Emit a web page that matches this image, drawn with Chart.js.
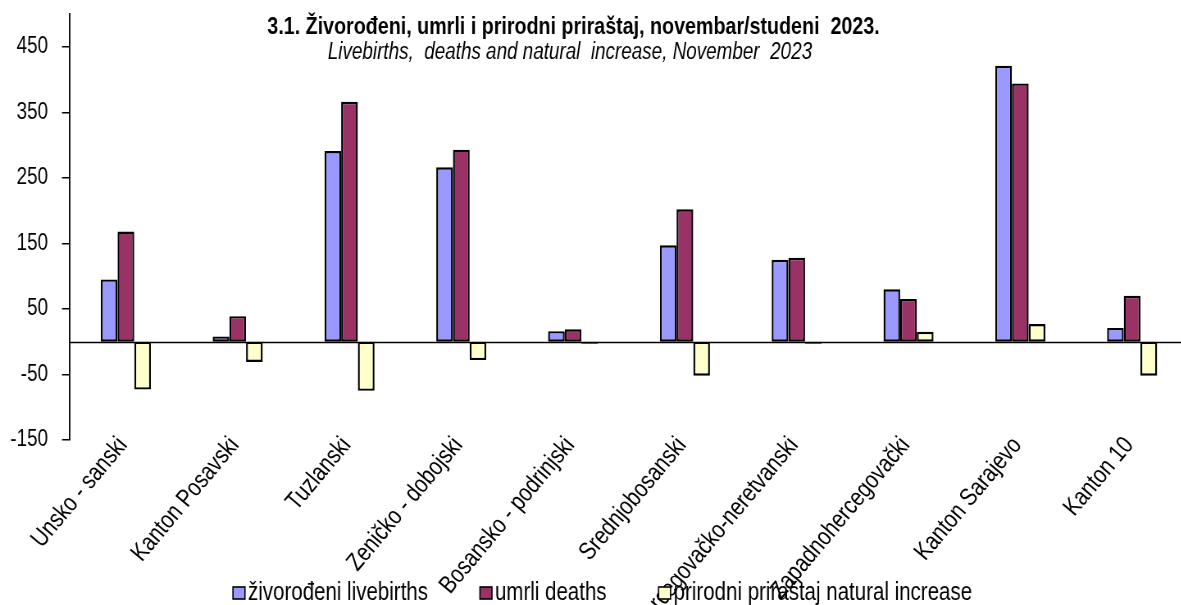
<!DOCTYPE html>
<html>
<head>
<meta charset="utf-8">
<script src="https://cdn.jsdelivr.net/npm/chart.js@4/dist/chart.umd.min.js"></script>
<style>
html,body{margin:0;padding:0;background:#fff;overflow:hidden;}
#wrap{width:1188px;height:605px;}
</style>
</head>
<body>
<div id="wrap"><canvas id="c" width="1449" height="605" style="width:1188px;height:605px;display:block;"></canvas></div>
<script>
const categories = ['Unsko - sanski','Kanton Posavski','Tuzlanski','Zeničko - dobojski','Bosansko - podrinjski','Srednjobosanski','Hercegovačko-neretvanski','Zapadnohercegovački','Kanton Sarajevo','Kanton 10'];
const livebirths = [95, 8, 291, 266, 16, 147, 125, 80, 421, 21];
const deaths = [168, 39, 366, 293, 19, 202, 128, 65, 394, 70];
const naturalIncrease = [-73, -31, -75, -28, -3, -52, -3, 15, 27, -52];
const tickValues = [-150, -50, 50, 150, 250, 350, 450];
const seriesNames = ['živorođeni livebirths', 'umrli deaths', 'prirodni priraštaj natural increase'];
const titleText = '3.1. Živorođeni, umrli i prirodni priraštaj, novembar/studeni  2023.';
const subtitleText = 'Livebirths,  deaths and natural  increase, November  2023';

// the reference uses a condensed (Arial Narrow-like) face; the canvas bitmap is
// drawn wider and squeezed horizontally by K to reproduce it
const K = 0.82;
const FAM = '"Liberation Sans", Arial, sans-serif';
const FS = 23;
const FS_CAT = 25;
Chart.defaults.font.family = FAM;
Chart.defaults.font.size = FS;
Chart.defaults.color = '#000';

const zeroLine = {
  id: 'zeroLine',
  beforeDatasetsDraw(chart) {
    const y = Math.round(chart.scales.y.getPixelForValue(0)) + 0.5;
    const ctx = chart.ctx;
    ctx.save();
    ctx.strokeStyle = '#000';
    ctx.lineWidth = 1.5;
    ctx.beginPath();
    ctx.moveTo(chart.chartArea.left, y);
    ctx.lineTo(chart.width, y);
    ctx.stroke();
    ctx.restore();
  }
};

// category labels: placed at the x scale's tick pixels, upright narrow glyphs at ~50deg
const catLabels = {
  id: 'catLabels',
  afterDraw(chart) {
    const xs = chart.scales.x;
    const ctx = chart.ctx;
    const ang = 50 * Math.PI / 180;
    ctx.save();
    ctx.fillStyle = '#000';
    ctx.font = FS_CAT + 'px ' + FAM;
    ctx.textAlign = 'right';
    ctx.textBaseline = 'middle';
    xs.ticks.forEach((t, i) => {
      const px = xs.getPixelForTick(i);
      ctx.save();
      ctx.translate(px - 3 / K, chart.chartArea.bottom + 1);
      ctx.scale(1 / K, 1);
      ctx.rotate(-ang);
      ctx.scale(K, 1);
      ctx.fillText(chart.data.labels[i], 0, 0);
      ctx.restore();
    });
    ctx.restore();
  }
};

const titles = {
  id: 'titles',
  afterDraw(chart) {
    const ctx = chart.ctx;
    ctx.save();
    ctx.fillStyle = '#000';
    ctx.textAlign = 'center';
    ctx.textBaseline = 'middle';
    ctx.font = 'bold 24px ' + FAM;
    ctx.fillText(titleText, 573.6 / K, 27);
    ctx.font = 'italic ' + FS + 'px ' + FAM;
    ctx.fillText(subtitleText, 570 / K, 53);
    ctx.restore();
  }
};

const legendBottom = {
  id: 'legendBottom',
  afterDraw(chart) {
    const ctx = chart.ctx;
    ctx.save();
    ctx.font = FS_CAT + 'px ' + FAM;
    ctx.textBaseline = 'middle';
    ctx.textAlign = 'left';
    let x = 233 / K;
    const yc = 593;
    const bw = 12 / K;
    chart.data.datasets.forEach((ds) => {
      ctx.fillStyle = ds.backgroundColor;
      ctx.fillRect(x, yc - 6, bw, 12);
      ctx.strokeStyle = '#000';
      ctx.lineWidth = 1.6;
      ctx.strokeRect(x, yc - 6, bw, 12);
      ctx.fillStyle = '#000';
      ctx.fillText(ds.label, x + bw + 3 / K, yc);
      x += bw + 3 / K + ctx.measureText(ds.label).width + 52 / K;
    });
    ctx.restore();
  }
};

const barStyle = { borderColor: '#000', borderWidth: 2.4, borderSkipped: false, categoryPercentage: 0.448, barPercentage: 1.0 };

new Chart(document.getElementById('c'), {
  type: 'bar',
  data: {
    labels: categories,
    datasets: [
      Object.assign({ label: seriesNames[0], data: livebirths, backgroundColor: '#9999FF' }, barStyle),
      Object.assign({ label: seriesNames[1], data: deaths, backgroundColor: '#993366' }, barStyle),
      Object.assign({ label: seriesNames[2], data: naturalIncrease, backgroundColor: '#FFFFCC' }, barStyle)
    ]
  },
  options: {
    responsive: false,
    devicePixelRatio: 1,
    animation: false,
    layout: { padding: { top: 14, left: 0, right: 0, bottom: 0 } },
    plugins: { legend: { display: false }, title: { display: false }, tooltip: { enabled: false } },
    scales: {
      x: {
        grid: { display: false, drawTicks: false },
        border: { display: false },
        ticks: { display: false, autoSkip: false },
        afterFit(s) { s.height = 165; s.paddingLeft = 0; s.paddingRight = 0; }
      },
      y: {
        min: -150,
        max: 500,
        afterBuildTicks(s) { s.ticks = tickValues.map(v => ({ value: v })); },
        grid: { display: true, drawOnChartArea: false, drawTicks: true, tickLength: 8 / K, color: '#000', lineWidth: 1.5 },
        border: { display: true, color: '#000', width: 1.8 },
        ticks: { padding: 14 / K, color: '#000', font: { size: FS } },
        afterFit(s) { s.width = 70 / K; s.paddingTop = 0; s.paddingBottom = 0; }
      }
    }
  },
  plugins: [zeroLine, catLabels, titles, legendBottom]
});
</script>
</body>
</html>
